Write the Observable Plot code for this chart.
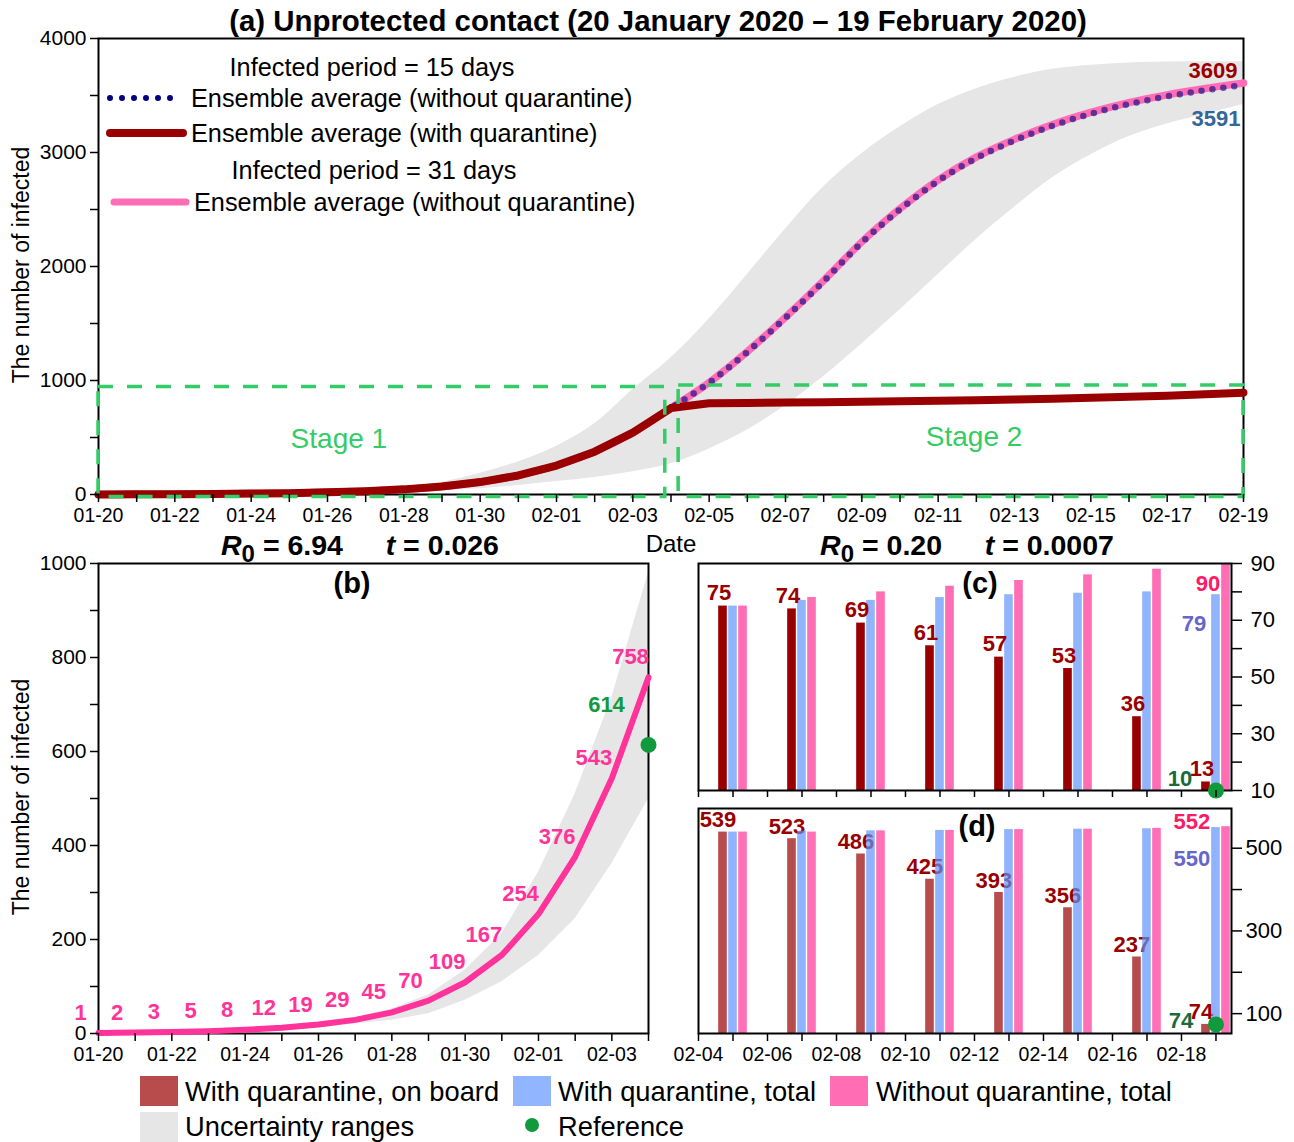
<!DOCTYPE html>
<html>
<head>
<meta charset="utf-8">
<script src="https://cdn.jsdelivr.net/npm/d3@7"></script>
<script src="https://cdn.jsdelivr.net/npm/@observablehq/plot@0.6"></script>
<style>
  body { margin: 0; background: #fff; }
  #fig { position: relative; width: 1294px; height: 1142px; overflow: hidden; background: #fff;
         font-family: "Liberation Sans", Arial, Helvetica, sans-serif; }
  .panel { position: absolute; }
  .panel svg { overflow: visible; }
  #overlay { position: absolute; left: 0; top: 0; pointer-events: none; }
</style>
</head>
<body>
<div id="fig"></div>
<script>
// ---------- data ----------
const startDate = "2020-01-20";
const stage1Infected = [1, 2, 3, 5, 8, 12, 19, 29, 45, 70, 109, 167, 254, 376, 543, 758];
// days 16..30 (02-05 .. 02-19)
const stage2NoQuarantine15 = [980, 1250, 1550, 1870, 2210, 2500, 2750, 2950, 3105, 3235, 3340, 3425, 3492, 3546, 3591];
const stage2NoQuarantine31 = [983, 1254, 1555, 1876, 2216, 2507, 2758, 2959, 3115, 3246, 3352, 3438, 3506, 3562, 3609];
const stage2WithQuarantine = [800, 803, 806, 809, 813, 817, 822, 827, 833, 840, 848, 857, 867, 879, 893];
// uncertainty range, panel (a), days 0..30
const rangeLowA = [0.5, 1, 2, 3, 5, 8, 12, 18, 27, 38, 50, 78, 114, 150, 200, 270, 400, 565, 780, 1035, 1320, 1620, 1930, 2240, 2520, 2780, 2980, 3140, 3250, 3335, 3420];
const rangeHighA = [2, 3, 4, 6, 10, 15, 23, 38, 62, 108, 187, 287, 424, 620, 920, 1200, 1540, 1930, 2330, 2700, 2990, 3225, 3420, 3560, 3660, 3730, 3765, 3785, 3793, 3795, 3795];
// uncertainty range, panel (b), days 0..15
const rangeLowB = [0.5, 1, 2, 3, 5, 8, 13, 20, 28, 42, 71, 110, 166, 244, 361, 499];
const rangeHighB = [2, 3, 4, 6, 9, 14, 22, 33, 52, 82, 135, 212, 343, 510, 715, 981];
const referenceB = 614;

const stageNames = ["Stage 1", "Stage 2"];
const stageFromDay = [0, 15.2];
const stageToDay = [14.85, 30];
const stageTop = [942, 957];
const stageBottom = -23;

const panelParams = [{ R0: "6.94", t: "0.026" }, { R0: "0.20", t: "0.0007" }];

// panels (c) and (d): every other day from 02-05
const barDates = ["2020-02-05", "2020-02-07", "2020-02-09", "2020-02-11", "2020-02-13", "2020-02-15", "2020-02-17", "2020-02-19"];
const onBoardC = [75, 74, 69, 61, 57, 53, 36, 13];
const quarTotalC = [75, 77, 77, 78, 79, 79.5, 80, 79];
const noQuarTotalC = [75, 78, 80, 82, 84, 86, 88, 90];
const onBoardD = [539, 523, 486, 425, 393, 356, 237, 74];
const quarTotalD = [539, 541, 542, 543, 545, 546, 547, 550];
const noQuarTotalD = [539, 539, 542, 543, 545, 546, 548, 552];
const referenceDate = "2020-02-19";
const referenceC = 10;
const referenceD = 74;

// ---------- helpers ----------
const FONT = '"Liberation Sans", Arial, Helvetica, sans-serif';
const DAY = 864e5;
const start = new Date(startDate + "T00:00:00Z");
const parse = s => new Date(s + "T00:00:00Z");
const dayAt = i => d3.utcDay.offset(start, i);
const addDays = (date, k) => new Date(+date + k * DAY);
const fmt = d3.utcFormat("%m-%d");
const everyOther = from => d => (Math.round((d - from) / DAY) % 2 === 0 ? fmt(d) : "");
const fig = document.getElementById("fig");
function place(node, left, top) {
  const div = document.createElement("div");
  div.className = "panel";
  div.style.left = left + "px";
  div.style.top = top + "px";
  div.appendChild(node);
  fig.appendChild(div);
}
const baseStyle = { fontFamily: FONT, fontSize: "20px", color: "#000", background: "transparent", overflow: "visible" };
const xAxisOpts = { tickSize: 8, tickPadding: 6, fontSize: 19.5, strokeWidth: 1.5, label: null };
const yAxisOpts = { tickSize: 8, tickPadding: 4, fontSize: 21, strokeWidth: 1.5, label: null };

// ---------- panel (a) ----------
const daysA = d3.range(31).map(dayAt);
const toSeries = vals => vals.map((v, i) => ({ date: daysA[i], value: v }));
const noQ15 = toSeries(stage1Infected.concat(stage2NoQuarantine15));
const noQ31 = toSeries(stage1Infected.concat(stage2NoQuarantine31));
const withQ = toSeries(stage1Infected.concat(stage2WithQuarantine));
const bandA = daysA.map((date, i) => ({ date, low: rangeLowA[i], high: rangeHighA[i] }));
const stages = stageNames.map((name, i) => ({
  name, x1: addDays(start, stageFromDay[i]), x2: addDays(start, stageToDay[i]), y1: stageBottom, y2: stageTop[i]
}));
const stageMid = d => new Date((+d.x1 + +d.x2) / 2);

const plotA = Plot.plot({
  width: 1294, height: 560,
  marginLeft: 98, marginRight: 51, marginTop: 38, marginBottom: 66,
  style: baseStyle,
  x: { type: "utc", domain: [daysA[0], daysA[30]] },
  y: { domain: [0, 4000] },
  marks: [
    Plot.areaY(bandA, { x: "date", y1: "low", y2: "high", fill: "#e6e6e6", curve: "monotone-x" }),
    Plot.frame({ stroke: "#000", strokeWidth: 2 }),
    Plot.line(noQ31, { x: "date", y: "value", stroke: "#ff6eb4", strokeWidth: 7.5, curve: "monotone-x", strokeLinecap: "round" }),
    Plot.line(noQ15, { x: "date", y: "value", stroke: "#000080", strokeOpacity: 0.6, strokeWidth: 6.5,
                       strokeDasharray: "0 11", strokeLinecap: "round", curve: "monotone-x" }),
    Plot.line(withQ, { x: "date", y: "value", stroke: "#990000", strokeWidth: 8, strokeLinecap: "round", strokeLinejoin: "round" }),
    Plot.rect(stages, { x1: "x1", x2: "x2", y1: "y1", y2: "y2", fill: "none", stroke: "#33cc66", strokeWidth: 3.5, strokeDasharray: "15 14" }),
    Plot.text([stages[0]], { x: stageMid, y: d => (d.y1 + d.y2) / 2, text: "name", fill: "#33cc66", fontSize: 28, dx: -43, dy: -3 }),
    Plot.text([stages[1]], { x: stageMid, y: d => (d.y1 + d.y2) / 2, text: "name", fill: "#33cc66", fontSize: 28, dx: 13, dy: -4 }),
    Plot.text([noQ31[30]], { x: "date", y: "value", text: d => String(d.value), fill: "#990000", fontWeight: "bold", fontSize: 22, textAnchor: "end", dx: -6, dy: -12 }),
    Plot.text([noQ15[30]], { x: "date", y: "value", text: d => String(d.value), fill: "#336699", fontWeight: "bold", fontSize: 22, textAnchor: "end", dx: -3, dy: 34 }),
    Plot.axisY({ ticks: d3.range(0, 4001, 500), tickFormat: d => (d % 1000 === 0 ? String(d) : ""), ...yAxisOpts }),
    Plot.axisX({ ticks: daysA, tickFormat: everyOther(start), ...xAxisOpts })
  ]
});
place(plotA, 0, 0);

// ---------- panel (b) ----------
const daysB = d3.range(16).map(dayAt);
const seriesB = stage1Infected.map((v, i) => ({ date: daysB[i], value: v }));
const bandB = daysB.map((date, i) => ({ date, low: rangeLowB[i], high: rangeHighB[i] }));
const refB = [{ date: daysB[15], value: referenceB }];

const plotB = Plot.plot({
  width: 680, height: 530,
  marginLeft: 98, marginRight: 32, marginTop: 23, marginBottom: 37,
  style: baseStyle,
  x: { type: "utc", domain: [daysB[0], daysB[15]] },
  y: { domain: [0, 1000] },
  marks: [
    Plot.areaY(bandB, { x: "date", y1: "low", y2: "high", fill: "#e6e6e6" }),
    Plot.frame({ stroke: "#000", strokeWidth: 2 }),
    Plot.line(seriesB, { x: "date", y: "value", stroke: "#ff3399", strokeWidth: 6, strokeLinecap: "round", strokeLinejoin: "round" }),
    Plot.text(seriesB, { x: "date", y: "value", text: d => String(d.value), fill: "#ff3399", fontWeight: "bold", fontSize: 22, dx: -18, dy: -20 }),
    Plot.dot(refB, { x: "date", y: "value", r: 8, fill: "#119a3b" }),
    Plot.text(refB, { x: "date", y: "value", text: d => String(d.value), fill: "#119a3b", fontWeight: "bold", fontSize: 22, dx: -42, dy: -40 }),
    Plot.axisY({ ticks: d3.range(0, 1001, 100), tickFormat: d => (d % 200 === 0 ? String(d) : ""), ...yAxisOpts }),
    Plot.axisX({ ticks: daysB, tickFormat: everyOther(start), ...xAxisOpts })
  ]
});
place(plotB, 0, 540);

// ---------- panels (c) and (d) ----------
const barDays = barDates.map(parse);
const firstBarDay = addDays(barDays[0], -1);
const tickDays = d3.range(16).map(i => d3.utcDay.offset(firstBarDay, i));
const xDomainCD = [firstBarDay, addDays(barDays[7], 0.45)];
const barOffset = { onBoard: -0.29, quarTotal: 0, noQuarTotal: 0.29 };
const halfWidth = 0.125;
const groups = (a, b, c) => barDays.map((date, i) => ({ date, onBoard: a[i], quarTotal: b[i], noQuarTotal: c[i] }));
const groupsC = groups(onBoardC, quarTotalC, noQuarTotalC);
const groupsD = groups(onBoardD, quarTotalD, noQuarTotalD);
const refDay = parse(referenceDate);

function bars(rows, key, fill, base, opacity) {
  return Plot.rectY(rows, {
    x1: d => addDays(d.date, barOffset[key] - halfWidth),
    x2: d => addDays(d.date, barOffset[key] + halfWidth),
    y1: base, y2: key, fill, fillOpacity: opacity
  });
}
function barLabel(rows, key, fill, dx, dy) {
  return Plot.text(rows, {
    x: d => addDays(d.date, barOffset[key]), y: key, text: d => String(d[key]),
    fill, fontWeight: "bold", fontSize: 22, dx, dy
  });
}

const domainC = [10, 90];
const lastC = [groupsC[7]];
const refC = [{ date: refDay, value: referenceC }];
const plotC = Plot.plot({
  width: 634, height: 270,
  marginLeft: 38, marginRight: 63, marginTop: 23, marginBottom: 20,
  style: baseStyle,
  x: { type: "utc", domain: xDomainCD },
  y: { domain: domainC },
  marks: [
    bars(groupsC, "onBoard", "#990000", domainC[0], 1),
    bars(groupsC, "quarTotal", "#91b5fc", domainC[0], 1),
    bars(groupsC, "noQuarTotal", "#ff6eb4", domainC[0], 1),
    Plot.frame({ stroke: "#000", strokeWidth: 2 }),
    Plot.dot(refC, { x: "date", y: "value", r: 8, fill: "#119a3b" }),
    barLabel(groupsC, "onBoard", "#990000", -4, -13),
    barLabel(lastC, "quarTotal", "#6666cc", -22, 29),
    barLabel(lastC, "noQuarTotal", "#ff1a66", -18, 20),
    Plot.text(refC, { x: "date", y: "value", text: d => String(d.value), fill: "#1a6b3a", fontWeight: "bold", fontSize: 22, dx: -36, dy: -12 }),
    Plot.axisY({ anchor: "right", ticks: d3.range(10, 91, 10), tickFormat: d => ((d - 10) % 20 === 0 ? String(d) : ""), tickSize: 10, tickPadding: 9, fontSize: 22, strokeWidth: 1.5, label: null }),
    Plot.axisX({ ticks: tickDays, tickFormat: () => "", tickSize: 7, strokeWidth: 1.5, label: null })
  ]
});
place(plotC, 660, 540);

const domainD = [52, 596];
const lastD = [groupsD[7]];
const refD = [{ date: refDay, value: referenceD }];
const plotD = Plot.plot({
  width: 634, height: 270,
  marginLeft: 38, marginRight: 63, marginTop: 8, marginBottom: 37,
  style: baseStyle,
  x: { type: "utc", domain: xDomainCD },
  y: { domain: domainD },
  marks: [
    // labels sit beneath the translucent bars
    barLabel(groupsD, "onBoard", "#990000", -5, -12),
    barLabel(lastD, "quarTotal", "#6666cc", -24, 31),
    barLabel(lastD, "noQuarTotal", "#ff1a66", -34, -5),
    bars(groupsD, "onBoard", "#990000", domainD[0], 0.7),
    bars(groupsD, "quarTotal", "#5f93fb", domainD[0], 0.7),
    bars(groupsD, "noQuarTotal", "#ff3398", domainD[0], 0.7),
    Plot.frame({ stroke: "#000", strokeWidth: 2 }),
    Plot.dot(refD, { x: "date", y: "value", r: 8, fill: "#119a3b" }),
    Plot.text(refD, { x: "date", y: "value", text: d => String(d.value), fill: "#1a6b3a", fontWeight: "bold", fontSize: 22, dx: -35, dy: -3 }),
    Plot.axisY({ anchor: "right", ticks: d3.range(100, 501, 100), tickFormat: d => (d % 200 === 100 ? String(d) : ""), tickSize: 10, tickPadding: 4, fontSize: 22, strokeWidth: 1.5, label: null }),
    Plot.axisX({ ticks: tickDays, tickFormat: everyOther(firstBarDay), ...xAxisOpts })
  ]
});
place(plotD, 660, 800);

// ---------- titles, labels and legends ----------
const overlay = d3.select(fig).append("svg").attr("id", "overlay")
  .attr("width", 1294).attr("height", 1142).style("font-family", FONT);

function label(x, y, str, o = {}) {
  return overlay.append("text")
    .attr("x", x).attr("y", y)
    .attr("text-anchor", o.anchor || "middle")
    .attr("dominant-baseline", "central")
    .attr("font-size", o.size || 20)
    .attr("font-weight", o.weight || "normal")
    .attr("fill", o.fill || "#000")
    .attr("transform", o.rotate ? `rotate(${o.rotate},${x},${y})` : null)
    .text(str);
}

label(658, 20, "(a) Unprotected contact (20 January 2020 \u2013 19 February 2020)", { size: 29.4, weight: "bold" });
label(21, 265, "The number of infected", { size: 23, rotate: -90 });
label(21, 797, "The number of infected", { size: 23, rotate: -90 });
label(671, 543, "Date", { size: 24 });
label(352, 583, "(b)", { size: 29, weight: "bold" });
label(980, 583, "(c)", { size: 29, weight: "bold" });
label(977, 826, "(d)", { size: 29, weight: "bold" });

function paramTitle(cx, p) {
  const t = overlay.append("text").attr("x", cx).attr("y", 545)
    .attr("text-anchor", "middle").attr("dominant-baseline", "central")
    .attr("font-size", 28.5).attr("font-weight", "bold");
  t.append("tspan").attr("font-style", "italic").text("R");
  t.append("tspan").attr("dy", 8).attr("font-size", 24).text("0");
  t.append("tspan").attr("dy", -8).text(" = " + p.R0 + "\u2002\u2002\u2002");
  t.append("tspan").attr("font-style", "italic").text("t");
  t.append("tspan").text(" = " + p.t);
}
paramTitle(360, panelParams[0]);
paramTitle(967, panelParams[1]);

// legend inside panel (a)
function sampleLine(x1, x2, y, color, width, dash) {
  overlay.append("line").attr("x1", x1).attr("x2", x2).attr("y1", y).attr("y2", y)
    .attr("stroke", color).attr("stroke-width", width).attr("stroke-linecap", "round")
    .attr("stroke-dasharray", dash || null);
}
label(372, 67, "Infected period = 15 days", { size: 25.3 });
sampleLine(110, 182, 98, "#000080", 6, "0 12");
label(191, 98, "Ensemble average (without quarantine)", { size: 25.3, anchor: "start" });
sampleLine(110, 183, 133, "#990000", 8);
label(191, 133, "Ensemble average (with quarantine)", { size: 25.3, anchor: "start" });
label(374, 170, "Infected period = 31 days", { size: 25.3 });
sampleLine(114, 186, 202, "#ff6eb4", 7);
label(194, 202, "Ensemble average (without quarantine)", { size: 25.3, anchor: "start" });

// legend below panels
function swatch(x, y, color) {
  overlay.append("rect").attr("x", x).attr("y", y).attr("width", 38).attr("height", 30).attr("fill", color);
}
swatch(140, 1076, "#b84c4c");
label(185, 1091, "With quarantine, on board", { size: 27.3, anchor: "start" });
swatch(513, 1076, "#91b5ff");
label(558, 1091, "With quarantine, total", { size: 27.3, anchor: "start" });
swatch(830, 1076, "#ff6eb4");
label(876, 1091, "Without quarantine, total", { size: 27.3, anchor: "start" });
swatch(140, 1112, "#e6e6e6");
label(185, 1126, "Uncertainty ranges", { size: 27.3, anchor: "start" });
overlay.append("circle").attr("cx", 532).attr("cy", 1125).attr("r", 7).attr("fill", "#119a3b");
label(558, 1126, "Reference", { size: 27.3, anchor: "start" });
</script>
</body>
</html>
